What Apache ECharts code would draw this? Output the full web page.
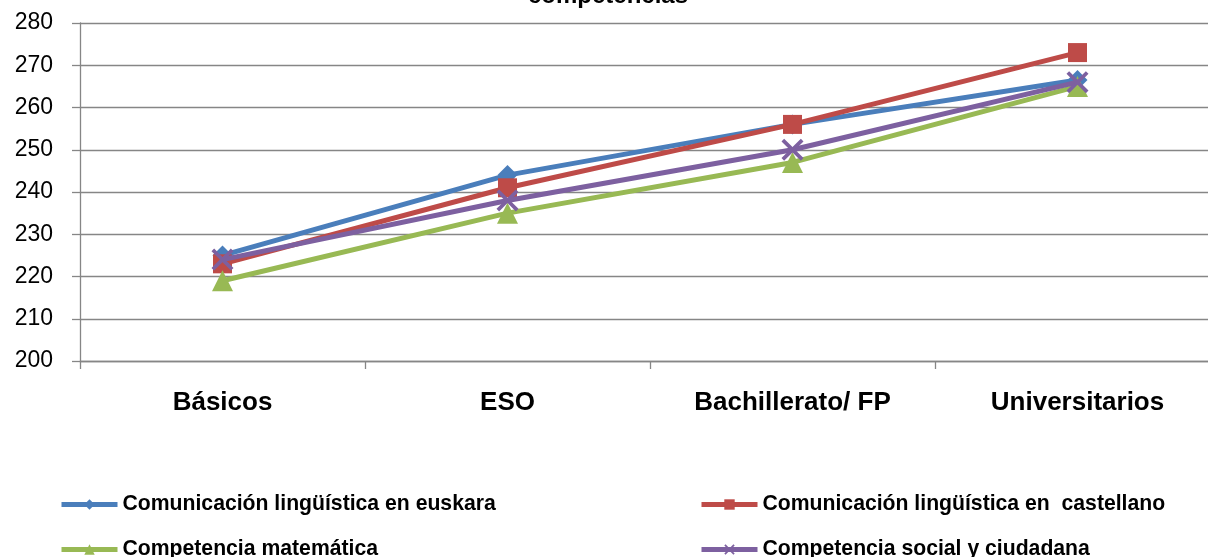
<!DOCTYPE html>
<html><head><meta charset="utf-8">
<script src="https://cdn.jsdelivr.net/npm/echarts@6/dist/echarts.min.js"></script>
<style>html,body{margin:0;padding:0;background:#fff}#c{width:1208px;height:557px}</style>
</head><body><div id="c"></div>
<script>
const categories = ['Básicos', 'ESO', 'Bachillerato/ FP', 'Universitarios'];
const euskara = [225, 244, 256, 266.5];
const castellano = [223, 241, 256, 273];
const matematica = [219, 235, 247, 265];
const social = [224, 238, 250, 266];
const seriesNames = ['Comunicación lingüística en euskara', 'Comunicación lingüística en  castellano', 'Competencia matemática', 'Competencia social y ciudadana'];
const colors = ['#4A7EBB', '#BE4B48', '#98B954', '#7D60A0'];

const xPath = 'path://M0,1.2 L1.2,0 L5,3.8 L8.8,0 L10,1.2 L6.2,5 L10,8.8 L8.8,10 L5,6.2 L1.2,10 L0,8.8 L3.8,5 Z';
const symbols = ['diamond', 'rect', 'triangle', xPath];
const sizes = [20, 19, 21, 22];
const dataList = [euskara, castellano, matematica, social];

const font = 'Arial, "Liberation Sans", sans-serif';
const legendPos = [[54, 489], [694, 489], [54, 534], [694, 534]];
const chart = echarts.init(document.getElementById('c'), null, {renderer: 'canvas'});
chart.setOption({
  animation: false,
  backgroundColor: '#fff',
  graphic: [{
    type: 'text', x: 608, y: -4,
    style: {text: 'competencias', font: 'bold 24px ' + font, fill: '#000', textAlign: 'center', textVerticalAlign: 'middle'}
  }],
  grid: {left: 80, width: 1140, top: 23, bottom: 196, containLabel: false, outerBoundsMode: 'none'},
  legend: seriesNames.map((n, i) => ({
    data: [n], left: legendPos[i][0], top: legendPos[i][1], itemWidth: 56, itemHeight: 13,
    lineStyle: {width: 5},
    textStyle: {fontFamily: font, fontWeight: 'bold', fontSize: 21.2, color: '#000'}
  })),
  xAxis: {
    type: 'category', data: categories, boundaryGap: true,
    axisLine: {lineStyle: {color: '#868686', width: 1.3}},
    axisTick: {show: true, length: 8, inside: false, alignWithLabel: false, lineStyle: {color: '#868686', width: 1.3}},
    axisLabel: {fontFamily: font, fontWeight: 'bold', fontSize: 26, color: '#000', margin: 29}
  },
  yAxis: {
    type: 'value', min: 200, max: 280, interval: 10,
    axisLine: {show: true, lineStyle: {color: '#868686', width: 1.3}},
    axisTick: {show: true, length: 8, lineStyle: {color: '#868686', width: 1.3}},
    splitLine: {show: true, lineStyle: {color: '#868686', width: 1.3}},
    axisLabel: {fontFamily: font, fontSize: 23, color: '#000', margin: 27}
  },
  series: dataList.map((d, i) => ({
    name: seriesNames[i], type: 'line', data: d,
    symbol: symbols[i], symbolSize: sizes[i], showAllSymbol: true,
    lineStyle: {color: colors[i], width: 5},
    itemStyle: {color: colors[i], borderWidth: 0},
    z: 2 + i
  }))
});
</script></body></html>
